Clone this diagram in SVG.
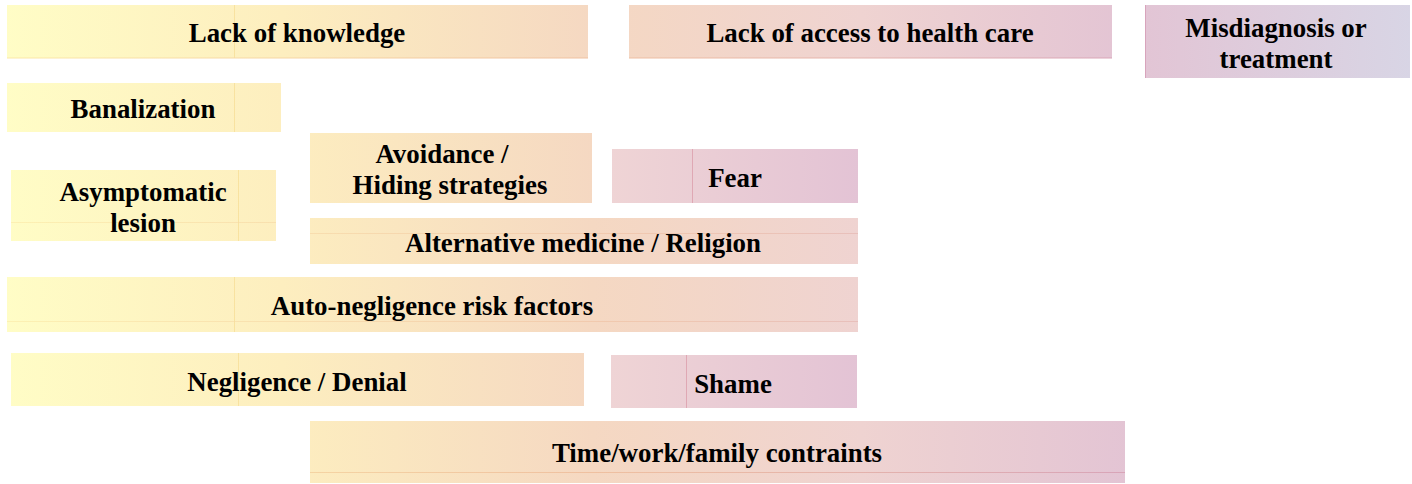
<svg xmlns="http://www.w3.org/2000/svg" width="1412" height="484" viewBox="0 0 1412 484">
<defs>
<linearGradient id="gMain" gradientUnits="userSpaceOnUse" x1="0" y1="0" x2="1412" y2="0">
<stop offset="0" stop-color="#fffdc6"/>
<stop offset="0.2" stop-color="#fdeebf"/>
<stop offset="0.42" stop-color="#f5d8c2"/>
<stop offset="0.61" stop-color="#efd3d1"/>
<stop offset="0.8" stop-color="#e3c4d4"/>
<stop offset="1" stop-color="#d8d5e5"/>
</linearGradient>
<linearGradient id="gPink" gradientUnits="userSpaceOnUse" x1="610" y1="0" x2="860" y2="0">
<stop offset="0" stop-color="#efd4d5"/>
<stop offset="1" stop-color="#e3c3d5"/>
</linearGradient>
<linearGradient id="gLine" gradientUnits="userSpaceOnUse" x1="0" y1="0" x2="1412" y2="0">
<stop offset="0" stop-color="#fbe9a6"/>
<stop offset="0.42" stop-color="#efc0a0"/>
<stop offset="0.8" stop-color="#d8a4b8"/>
<stop offset="1" stop-color="#c8b0c8"/>
</linearGradient>
</defs>
<style>
.box{fill:url(#gMain);}
.pink{fill:url(#gPink);}
.ln{stroke:url(#gLine);stroke-width:1;fill:none;}
.vl{stroke:#f8e2a0;stroke-width:1;}
.vp{stroke:#dfa8b4;stroke-width:1;}
text{font-family:"Liberation Serif","Times New Roman",serif;font-weight:bold;font-size:28px;fill:#000;text-anchor:middle;}
</style>
<g id="lack-knowledge">
<rect class="box" x="7" y="5" width="581" height="53"/>
<line class="vl" x1="234.5" y1="5" x2="234.5" y2="58"/>
<line class="ln" x1="7" y1="58" x2="588" y2="58"/>
<text transform="translate(297,42) scale(0.96,1)">Lack of knowledge</text>
</g>
<g id="lack-access">
<rect class="box" x="629" y="5" width="483" height="53"/>
<line class="ln" x1="629" y1="58" x2="1112" y2="58"/>
<text transform="translate(870,42) scale(0.96,1)">Lack of access to health care</text>
</g>
<g id="misdiagnosis">
<rect class="box" x="1145" y="5" width="265" height="73"/>
<line x1="1145.5" y1="5" x2="1145.5" y2="78" stroke="#d8a4bc" stroke-width="1"/>
<text transform="translate(1276,37) scale(0.96,1)">Misdiagnosis or</text>
<text transform="translate(1276,68) scale(0.96,1)">treatment</text>
</g>
<g id="banalization">
<rect class="box" x="7" y="83" width="274" height="49"/>
<line class="vl" x1="234.5" y1="83" x2="234.5" y2="132"/>
<text transform="translate(143,118) scale(0.96,1)">Banalization</text>
</g>
<g id="avoidance">
<rect class="box" x="310" y="133" width="282" height="70"/>
<text transform="translate(442,163) scale(0.96,1)">Avoidance /</text>
<text transform="translate(450,194) scale(0.96,1)">Hiding strategies</text>
</g>
<g id="fear">
<rect class="pink" x="612" y="149" width="246" height="54"/>
<line class="vp" x1="692.5" y1="149" x2="692.5" y2="203"/>
<text transform="translate(735,187) scale(0.96,1)">Fear</text>
</g>
<g id="asymptomatic">
<rect class="box" x="11" y="170" width="265" height="71"/>
<line class="vl" x1="238.5" y1="170" x2="238.5" y2="241"/>
<line class="ln" x1="11" y1="222.5" x2="276" y2="222.5" stroke-opacity="0.6"/>
<text transform="translate(143,201) scale(0.96,1)">Asymptomatic</text>
<text transform="translate(143,232) scale(0.96,1)">lesion</text>
</g>
<g id="alternative">
<rect class="box" x="310" y="218" width="548" height="46"/>
<line class="ln" x1="310" y1="233.5" x2="858" y2="233.5" stroke-opacity="0.6"/>
<text transform="translate(583,252) scale(0.96,1)">Alternative medicine / Religion</text>
</g>
<g id="auto-negligence">
<rect class="box" x="7" y="277" width="851" height="55"/>
<line class="vl" x1="234.5" y1="277" x2="234.5" y2="332"/>
<line class="ln" x1="7" y1="321.5" x2="858" y2="321.5" stroke-opacity="0.6"/>
<text transform="translate(432,315) scale(0.96,1)">Auto-negligence risk factors</text>
</g>
<g id="negligence">
<rect class="box" x="11" y="353" width="573" height="53"/>
<line class="vl" x1="238.5" y1="353" x2="238.5" y2="406"/>
<text transform="translate(297,391) scale(0.96,1)">Negligence / Denial</text>
</g>
<g id="shame">
<rect class="pink" x="611" y="355" width="246" height="53"/>
<line class="vp" x1="686.5" y1="355" x2="686.5" y2="408"/>
<text transform="translate(733,393) scale(0.96,1)">Shame</text>
</g>
<g id="time-work">
<rect class="box" x="310" y="421" width="815" height="62"/>
<line class="ln" x1="310" y1="472.5" x2="1125" y2="472.5"/>
<text transform="translate(717,462) scale(0.96,1)">Time/work/family contraints</text>
</g>
<g id="connectors"></g>
</svg>
